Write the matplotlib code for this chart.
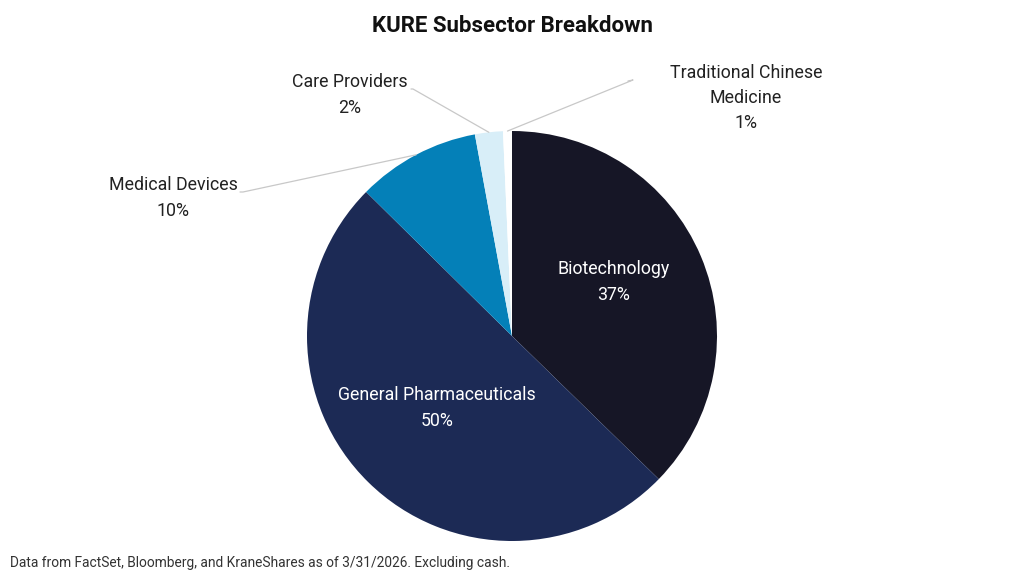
import matplotlib
matplotlib.use("Agg")
import matplotlib.pyplot as plt
import numpy as np

title = "KURE Subsector Breakdown"
categories = ["Biotechnology", "General Pharmaceuticals", "Medical Devices",
              "Care Providers", "Traditional Chinese\nMedicine"]
values = [37.3, 50.1, 9.7, 2.2, 0.7]
colors = ["#161626", "#1c2a55", "#0480b8", "#d8eef8", "#ffffff"]
footnote = "Data from FactSet, Bloomberg, and KraneShares as of 3/31/2026. Excluding cash."

plt.rcParams['font.family'] = ['Roboto', 'DejaVu Sans']

W, H = 1024, 576
fig = plt.figure(figsize=(W / 100, H / 100), dpi=100)
cx, cy, R = 512, 240, 205  # pixel center (from bottom) and radius
ax = fig.add_axes([(cx - R) / W, (cy - R) / H, 2 * R / W, 2 * R / H])
wedges, _ = ax.pie(values, colors=colors, startangle=90, counterclock=False,
                   radius=1.0, wedgeprops=dict(linewidth=0))
ax.set_xlim(-1, 1)
ax.set_ylim(-1, 1)
ax.set_aspect("equal")
ax.axis("off")

total = sum(values)
cum = np.cumsum([0] + values[:-1])
mids = [np.deg2rad(90 - (c + v / 2) / total * 360) for c, v in zip(cum, values)]
pcts = [f"{round(v):.0f}%" for v in values]


def px(x, y_top):
    return ((x - cx) / R, ((H - y_top) - cy) / R)


FS = 12.8
LS = 1.52

# inside labels
inside_pos = {0: px(614, 282), 1: px(437, 408)}
for i, (tx, ty) in inside_pos.items():
    ax.text(tx, ty, f"{categories[i]}\n{pcts[i]}", color="white", ha="center",
            va="center", fontsize=FS, linespacing=LS)

# outside labels: (text position, line start points)
outside = {
    2: dict(text=px(173, 198), start=[px(243, 192), px(240, 192)]),
    3: dict(text=px(350, 95), start=[px(413, 89), px(411, 89)]),
    4: dict(text=px(746, 98), start=[px(633, 80), px(628, 81)]),
}
for i, d in outside.items():
    ex, ey = 1.0 * np.cos(mids[i]), 1.0 * np.sin(mids[i])
    sx, sy = d["start"][0]
    sx2, sy2 = d["start"][1]
    ax.plot([ex, sx, sx2], [ey, sy, sy2], color="#c8c8c8", lw=0.9, clip_on=False,
            solid_capstyle="round")
    tx, ty = d["text"]
    ax.text(tx, ty, f"{categories[i]}\n{pcts[i]}", color="#222222", ha="center",
            va="center", fontsize=FS, linespacing=LS)

fig.text(512 / W, 1 - 26 / H, title, ha="center", va="center", fontsize=16,
         fontweight="bold", color="#111111")
fig.text(10 / W, 1 - 563 / H, footnote, ha="left", va="center", fontsize=9.9,
         color="#333333")

fig.savefig("out.png", dpi=100, facecolor="white")
